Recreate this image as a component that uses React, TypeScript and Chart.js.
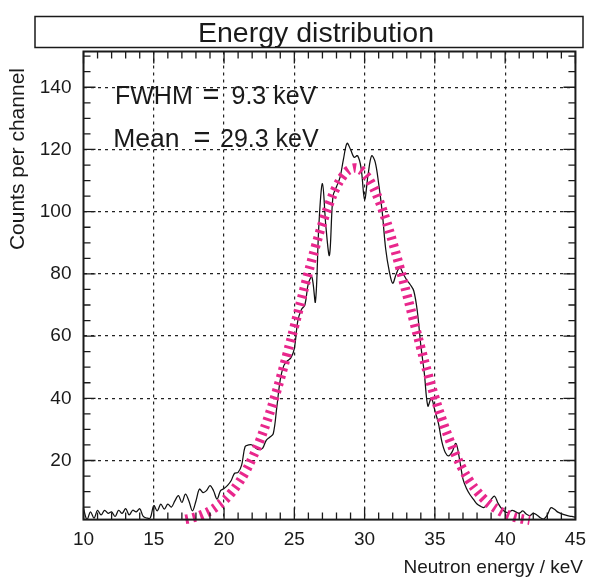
import React, { useEffect, useRef } from 'react';
import { Chart, registerables } from 'chart.js';

Chart.register(...registerables);

// Histogram (channel energy in keV, counts per channel)
const histEnergy = [
  10.0, 10.25, 10.5, 10.75, 11.0, 11.25, 11.5, 11.75, 12.0, 12.25, 12.5, 12.75,
  13.0, 13.25, 13.5, 13.75, 14.0, 14.25, 14.5, 14.75, 15.0, 15.25, 15.5, 15.75,
  16.0, 16.25, 16.5, 16.75, 17.0, 17.25, 17.5, 17.75, 18.0, 18.25, 18.5, 18.75,
  19.0, 19.25, 19.5, 19.75, 20.0, 20.25, 20.5, 20.75, 21.0, 21.25, 21.5, 21.75,
  22.0, 22.25, 22.5, 22.75, 23.0, 23.25, 23.5, 23.75, 24.0, 24.25, 24.5, 24.75,
  25.0, 25.25, 25.5, 25.75, 26.0, 26.25, 26.5, 26.75, 27.0, 27.25, 27.5, 27.75,
  28.0, 28.25, 28.5, 28.75, 29.0, 29.25, 29.5, 29.75, 30.0, 30.25, 30.5, 30.75,
  31.0, 31.25, 31.5, 31.75, 32.0, 32.25, 32.5, 32.75, 33.0, 33.25, 33.5, 33.75,
  34.0, 34.25, 34.5, 34.75, 35.0, 35.25, 35.5, 35.75, 36.0, 36.25, 36.5, 36.75,
  37.0, 37.25, 37.5, 37.75, 38.0, 38.25, 38.5, 38.75, 39.0, 39.25, 39.5, 39.75,
  40.0, 40.25, 40.5, 40.75, 41.0, 41.25, 41.5, 41.75, 42.0, 42.25, 42.5, 42.75,
  43.0, 43.25, 43.5, 43.75, 44.0, 44.25, 44.5, 44.75, 45.0,
];
const histCounts = [
  4.5, 1, 3.5, 1.5, 4, 2.5, 4, 3, 3.5, 2, 4, 3,
  4.5, 2.5, 4, 3.5, 4.5, 2, 1.5, 1.5, 5.5, 3.8, 6, 4.4,
  6, 5, 7, 8.7, 6.5, 9.2, 7, 3.8, 7, 10.8, 9.7, 10.3,
  11.9, 10.3, 7.6, 10.3, 11, 12, 13.5, 15.9, 16.2, 18.5, 24.5, 25,
  25, 24, 23.5, 24, 26.5, 27.5, 28.6, 37, 46, 50.5, 52, 53,
  56, 65, 68.5, 70, 77, 79, 71, 96, 109, 95, 86, 105,
  108, 111, 117, 122, 120, 117.5, 118, 114, 104, 112, 118, 116,
  109, 100, 88, 81, 77, 80, 82, 80, 78, 76.5, 74.5, 68,
  57, 48, 37.5, 40, 36, 32, 26, 22.5, 21.5, 23, 25.5, 20.5,
  14, 11, 9, 7.5, 6, 5.3, 4.9, 6, 7.5, 8.5, 6.2, 4.5,
  3.5, 3.3, 4, 3.5, 3, 3.8, 2.8, 2.3, 3, 2.5, 1.6, 1.2,
  2.5, 4.8, 4.3, 3.4, 2.9, 2.5, 2.2, 2, 1.8,
];

// Fitted curve
const fitEnergy = [
  17.25, 17.5, 18.0, 18.5, 19.0, 19.5, 20.0, 20.5, 21.0, 21.5, 22.0, 22.5,
  23.0, 23.5, 24.0, 24.5, 25.0, 25.5, 26.0, 26.5, 27.0, 27.5, 28.0, 28.5,
  29.0, 29.5, 30.0, 30.5, 31.0, 31.5, 32.0, 32.5, 33.0, 33.5, 34.0, 34.5,
  35.0, 35.5, 36.0, 36.5, 37.0, 37.5, 38.0, 38.5, 39.0, 39.5, 40.0, 40.5,
  41.0, 41.5, 41.75,
];
const fitCounts = [
  1.1, 1.3, 1.9, 2.7, 3.8, 5.3, 7.1, 9.5, 12.5, 16.2, 20.7, 25.9,
  32, 38.8, 46.3, 54.5, 63, 71.8, 80.4, 88.7, 96.2, 102.7, 108, 111.7,
  113.7, 113.9, 112.2, 108.9, 103.9, 97.6, 90.2, 82.1, 73.5, 64.8, 56.2, 47.9,
  40.2, 33.3, 27.1, 21.6, 17.0, 13.2, 10.1, 7.6, 5.6, 4.1, 2.9, 2.0,
  1.4, 1.0, 0.8,
];

const xTickValues = [10, 15, 20, 25, 30, 35, 40, 45];
const yTickValues = [20, 40, 60, 80, 100, 120, 140];
const xMinorStep = 1;
const yMinorStep = 5;

const titleText = 'Energy distribution';
const xTitle = 'Neutron energy / keV';
const yTitle = 'Counts per channel';
const fwhmLabel = ['FWHM', '=', '9.3 keV'];
const meanLabel = ['Mean', '=', '29.3 keV'];

const FONT = '"Liberation Sans", Arial, Helvetica, sans-serif';
const INK = '#1a1a1a';
const PINK = '#e9278c';

const decorPlugin = {
  id: 'decor',
  beforeDraw(chart: any) {
    const ctx = chart.ctx;
    ctx.save();
    ctx.fillStyle = '#ffffff';
    ctx.fillRect(0, 0, chart.width, chart.height);
    ctx.restore();
  },
  afterDraw(chart: any) {
    const ctx = chart.ctx;
    const { left, right, top, bottom } = chart.chartArea;
    const xs = chart.scales.x;
    const ys = chart.scales.y;
    ctx.save();

    // inner ticks
    ctx.strokeStyle = INK;
    ctx.lineWidth = 1.3;
    ctx.beginPath();
    for (let v = xs.min; v <= xs.max + 1e-9; v += xMinorStep) {
      const px = xs.getPixelForValue(v);
      const major = Math.abs(v % 5) < 1e-9;
      const len = major ? 12 : 7;
      ctx.moveTo(px, bottom);
      ctx.lineTo(px, bottom - len);
      ctx.moveTo(px, top);
      ctx.lineTo(px, top + len);
    }
    for (let v = 5; v <= ys.max; v += yMinorStep) {
      const py = ys.getPixelForValue(v);
      const major = v % 20 === 0;
      const len = major ? 12 : 7;
      ctx.moveTo(left, py);
      ctx.lineTo(left + len, py);
      ctx.moveTo(right, py);
      ctx.lineTo(right - len, py);
    }
    ctx.stroke();

    // frame
    ctx.lineWidth = 2;
    ctx.strokeRect(left, top, right - left, bottom - top);

    // title box
    ctx.lineWidth = 1.5;
    ctx.strokeRect(35, 16.5, 548, 31);
    ctx.fillStyle = INK;
    ctx.font = `28.5px ${FONT}`;
    ctx.textAlign = 'center';
    ctx.textBaseline = 'alphabetic';
    ctx.fillText(titleText, 316, 41.5);

    // axis titles
    ctx.font = `19px ${FONT}`;
    ctx.textAlign = 'right';
    ctx.textBaseline = 'middle';
    ctx.fillText(xTitle, 583, 568);
    ctx.save();
    ctx.font = `21px ${FONT}`;
    ctx.translate(18.5, 68);
    ctx.rotate(-Math.PI / 2);
    ctx.textAlign = 'right';
    ctx.fillText(yTitle, 0, 0);
    ctx.restore();

    // statistics labels
    ctx.font = `25px ${FONT}`;
    ctx.textBaseline = 'alphabetic';
    ctx.textAlign = 'left';
    ctx.fillText(fwhmLabel[0], 115, 104.3);
    ctx.fillText(fwhmLabel[2], 231.5, 104.3);
    ctx.font = `26.5px ${FONT}`;
    ctx.fillText(meanLabel[0], 113.3, 147.3);
    ctx.font = `25px ${FONT}`;
    ctx.fillText(meanLabel[2], 220, 147.3);
    ctx.font = `29px ${FONT}`;
    ctx.textAlign = 'center';
    ctx.fillText(fwhmLabel[1], 211, 104.3);
    ctx.fillText(meanLabel[1], 202, 147.3);

    ctx.restore();
  },
};

export default function App() {
  const canvasRef = useRef<HTMLCanvasElement | null>(null);

  useEffect(() => {
    const canvas = canvasRef.current;
    if (!canvas) return;
    const histData = histEnergy.map((e, i) => ({ x: e, y: histCounts[i] }));
    const fitData = fitEnergy.map((e, i) => ({ x: e, y: fitCounts[i] }));

    const gridColor = (ctx: any, edge: number[]) =>
      ctx.tick && edge.includes(ctx.tick.value) ? 'rgba(0,0,0,0)' : '#222222';

    const chart = new Chart(canvas, {
      type: 'line',
      data: {
        datasets: [
          {
            label: 'fit',
            data: fitData,
            borderColor: PINK,
            borderWidth: 9.5,
            borderDash: [3, 4.5],
            pointRadius: 0,
            fill: false,
            tension: 0.4,
            clip: false as any,
          },
          {
            label: 'histogram',
            data: histData,
            borderColor: '#111111',
            borderWidth: 1.25,
            pointRadius: 0,
            fill: false,
            tension: 0.35,
          },
        ],
      },
      options: {
        responsive: false,
        animation: false,
        devicePixelRatio: 1,
        events: [],
        layout: { padding: { top: 51.5, right: 11.7, left: 0, bottom: 0 } },
        plugins: {
          legend: { display: false },
          tooltip: { enabled: false },
          title: { display: false },
        },
        scales: {
          x: {
            type: 'linear',
            min: 10,
            max: 45,
            afterFit(s: any) {
              s.height = 62.4;
            },
            afterBuildTicks(s: any) {
              s.ticks = xTickValues.map((v) => ({ value: v }));
            },
            ticks: {
              font: { family: FONT, size: 19 },
              color: INK,
              padding: 9,
              maxRotation: 0,
              autoSkip: false,
            },
            grid: {
              color: (ctx: any) => gridColor(ctx, [10, 45]),
              lineWidth: 1.2,
              drawTicks: false,
            },
            border: { display: false, dash: [3, 4] },
          },
          y: {
            type: 'linear',
            min: 1,
            max: 151.5,
            afterFit(s: any) {
              s.width = 83.5;
            },
            afterBuildTicks(s: any) {
              s.ticks = yTickValues.map((v) => ({ value: v }));
            },
            ticks: {
              font: { family: FONT, size: 19 },
              color: INK,
              padding: 12,
              autoSkip: false,
            },
            grid: {
              color: '#222222',
              lineWidth: 1.2,
              drawTicks: false,
            },
            border: { display: false, dash: [3, 4] },
          },
        },
      } as any,
      plugins: [decorPlugin],
    });

    return () => {
      chart.destroy();
    };
  }, []);

  return (
    <div style={{ position: 'absolute', left: 0, top: 0, width: 595, height: 582, background: '#fff' }}>
      <canvas ref={canvasRef} width={595} height={582} style={{ width: 595, height: 582, display: 'block' }} />
    </div>
  );
}
